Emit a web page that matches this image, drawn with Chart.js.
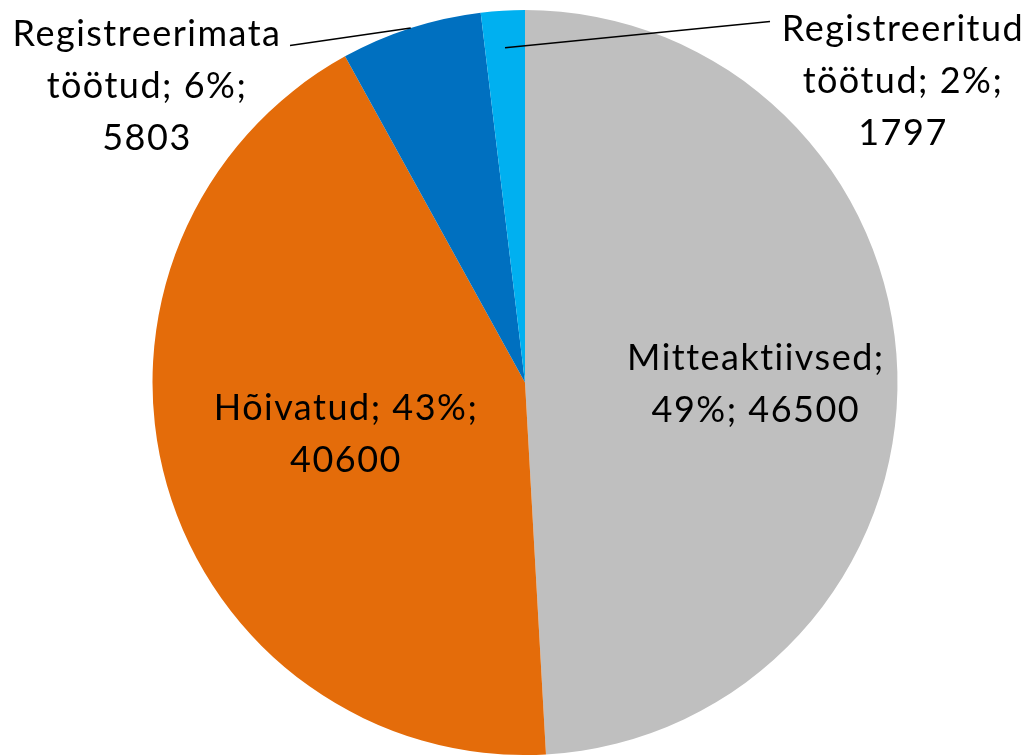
<!DOCTYPE html>
<html>
<head>
<meta charset="utf-8">
<script src="https://cdn.jsdelivr.net/npm/chart.js@4/dist/chart.umd.min.js"></script>
<style>
  html, body { margin: 0; padding: 0; background: #fff; }
  #wrap { width: 1032px; height: 755px; position: relative; }
</style>
</head>
<body>
<div id="wrap"><canvas id="pieChart"></canvas></div>
<script>
const categories = ["Mitteaktiivsed", "Hõivatud", "Registreerimata töötud", "Registreeritud töötud"];
const values = [46500, 40600, 5803, 1797];
const colors = ["#BFBFBF", "#E46C0A", "#0070C0", "#00B0F0"];

// where each data label goes: inside slices by radius fraction, outside ones by offset from centre
const labelPlace = [
  { r: 0.62, shiftY: 8, wrap: 290 },
  { r: 0.50, shiftY: 0, wrap: 290 },
  { dx: -378, dy: -296, wrap: 270, lineR: 1.0, lineTo: [-235, -337] },
  { dx: 378, dy: -301, wrap: 270, lineR: 0.9, lineTo: [245, -361] }
];

const FONT = "36px Lato";
const LINE_H = 52;
const total = values.reduce((a, b) => a + b, 0);

function wrapText(ctx, text, maxW) {
  let words = text.split(" ");
  let lines = [];
  let cur = "";
  words.forEach(w => {
    let test = cur ? cur + " " + w : w;
    if (cur && ctx.measureText(test).width > maxW) {
      lines.push(cur);
      cur = w;
    } else {
      cur = test;
    }
  });
  if (cur) lines.push(cur);
  return lines;
}

const pieLabels = {
  id: "pieLabels",
  afterDatasetsDraw(chart) {
    const ctx = chart.ctx;
    const meta = chart.getDatasetMeta(0);
    ctx.save();
    ctx.font = FONT;
    ctx.letterSpacing = "1.5px";
    ctx.fillStyle = "#000";
    ctx.textAlign = "center";
    ctx.textBaseline = "middle";
    meta.data.forEach((arc, i) => {
      const p = arc.getProps(["x", "y", "startAngle", "endAngle", "outerRadius"], true);
      const mid = (p.startAngle + p.endAngle) / 2;
      const place = labelPlace[i];
      const pct = Math.round(values[i] / total * 100);
      const text = categories[i] + "; " + pct + "%; " + values[i];
      const lines = wrapText(ctx, text, place.wrap);
      let cx, cy;
      if (place.r !== undefined) {
        cx = p.x + Math.cos(mid) * p.outerRadius * place.r;
        cy = p.y + Math.sin(mid) * p.outerRadius * place.r + place.shiftY;
      } else {
        cx = p.x + place.dx;
        cy = p.y + place.dy;
        // leader line
        ctx.beginPath();
        ctx.strokeStyle = "#000";
        ctx.lineWidth = 1.5;
        ctx.moveTo(p.x + Math.cos(mid) * p.outerRadius * place.lineR,
                   p.y + Math.sin(mid) * p.outerRadius * place.lineR);
        ctx.lineTo(p.x + place.lineTo[0], p.y + place.lineTo[1]);
        ctx.stroke();
      }
      const top = cy - (lines.length - 1) * LINE_H / 2;
      lines.forEach((ln, j) => ctx.fillText(ln, cx, top + j * LINE_H));
    });
    ctx.restore();
  }
};

new Chart(document.getElementById("pieChart"), {
  type: "pie",
  data: {
    labels: categories,
    datasets: [{
      data: values,
      backgroundColor: colors,
      borderWidth: 0
    }]
  },
  options: {
    responsive: true,
    maintainAspectRatio: false,
    animation: false,
    layout: { padding: { top: 10, left: 18, right: 0, bottom: 0 } },
    plugins: {
      legend: { display: false },
      tooltip: { enabled: false }
    }
  },
  plugins: [pieLabels]
});
</script>
</body>
</html>
